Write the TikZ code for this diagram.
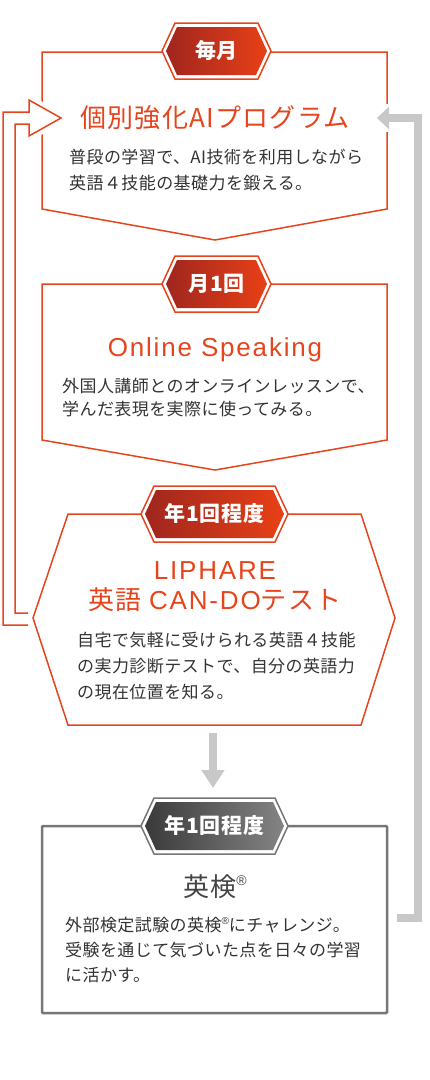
\documentclass[tikz,border=0pt]{standalone}
\usepackage{fontspec}
\setmainfont{Noto Sans CJK JP}
\newfontfamily\latinfont[LetterSpace=7]{Liberation Sans}
\newfontfamily\markfont{Liberation Sans}
\usetikzlibrary{arrows.meta}

\definecolor{lred}{RGB}{230,68,28}
\definecolor{badgeDark}{RGB}{160,38,30}
\definecolor{badgeLight}{RGB}{232,64,22}
\definecolor{gline}{RGB}{118,118,118}
\definecolor{gdark}{RGB}{58,58,58}
\definecolor{glight}{RGB}{132,132,132}
\definecolor{arrowgray}{RGB}{200,200,200}
\definecolor{bodygray}{RGB}{51,51,51}
\definecolor{titlegray}{RGB}{68,68,68}

%% hexagon label on top of a box: name, left x, right x, mid y, outline, shade left, shade right, text
\newcommand{\tagbadge}[8]{%
  \draw[draw=#5, line width=1.5pt, fill=white] (#2,#4) -- (#2+13,#4-28) -- (#3-13,#4-28)
    -- (#3,#4) -- (#3-13,#4+28) -- (#2+13,#4+28) -- cycle;
  \shade[left color=#6, right color=#7] (#2+4,#4) -- (#2+15,#4-24) -- (#3-15,#4-24)
    -- (#3-4,#4) -- (#3-15,#4+24) -- (#2+15,#4+24) -- cycle;
  \node[badgetext] (#1) at ({(#2+#3)/2},#4) {#8};
}

\begin{document}
\begin{tikzpicture}[x=1pt,y=-1pt,
    frame/.style={draw=lred, line width=1.5pt},
    grayframe/.style={draw=gline, line width=2.5pt, rounded corners=1pt},
    loopline/.style={draw=lred, line width=1.5pt},
    halo/.style={draw=white, line width=10pt, fill=white},
    grayarrow/.style={draw=arrowgray, line width=8pt},
    title/.style={text=lred, font=\fontsize{26}{30}\selectfont\addfontfeatures{LetterSpace=5},
      inner sep=0pt, align=center},
    body/.style={text=bodygray, font=\fontsize{17}{26}\selectfont\addfontfeatures{LetterSpace=2.5},
      align=left, anchor=west, inner sep=0pt},
    badgetext/.style={text=white, font=\bfseries\fontsize{21}{21}\selectfont\addfontfeatures{LetterSpace=4},
      inner sep=0pt}]
  \useasboundingbox (0,0) rectangle (430,1080);

  %% boxes
  \draw[frame] (215,240) -- (42,209) -- (42,52) -- (387,52) -- (387,209) -- cycle;
  \draw[frame] (215,470) -- (42,440) -- (42,284) -- (387,284) -- (387,440) -- cycle;
  \draw[frame] (33,618) -- (68,514) -- (361,514) -- (395,618) -- (361,725) -- (68,725) -- cycle;
  \draw[grayframe] (42,826) rectangle (387,1013);

  %% connector ends
  \coordinate (aiIn) at (61,118);
  \coordinate (aiBack) at (377,118);
  \coordinate (testOut) at (28,619);
  \coordinate (testDown) at (213,733);
  \coordinate (eikenTop) at (213,788);
  \coordinate (eikenOut) at (397,918);

  %% loop back from the test
  \draw[halo] (aiIn) ++(-32,-18) -- (aiIn) -- ++(-32,18) -- cycle;
  \draw[loopline] (testOut) ++(0,6) -- ++(-25,0) -- ++(0,-513) -- ++(26,0) -- ++(0,-12)
    -- (aiIn) -- ++(-32,18) -- ++(0,-12) -- ++(-14,0) -- ++(0,489) -- ++(13,0);

  %% Eiken back to the top
  \fill[white] (aiBack) ++(-3,-14) rectangle ++(22,28);
  \draw[grayarrow, -{Triangle[length=12pt,width=22pt]}] (eikenOut) -- ++(21,0) |- (aiBack);
  \draw[grayarrow, -{Triangle[length=18pt,width=22pt]}] (testDown) -- (eikenTop);

  %% labels
  \tagbadge{monthly}{162}{271}{51}{lred}{badgeDark}{badgeLight}{毎月}
  \tagbadge{once}{162}{271}{284}{lred}{badgeDark}{badgeLight}{月1回}
  \tagbadge{yearly}{141}{288}{514}{lred}{badgeDark}{badgeLight}{年1回程度}
  \tagbadge{yearlyEiken}{141}{288}{826}{gline}{gdark}{glight}{年1回程度}

  %% AI
  \node[title] (aiTitle) at (215,118) {個別強化AIプログラム};
  \node[body] (aiText) at (69,170) {普段の学習で、AI技術を利用しながら\\英語４技能の基礎力を鍛える。};

  %% Online Speaking
  \node[title] (osTitle) at (215,350) {\latinfont Online Speaking};
  \node[body, font=\fontsize{17}{23}\selectfont\addfontfeatures{LetterSpace=2.5}] (osText) at (62,398)
    {外国人講師とのオンラインレッスンで、\\学んだ表現を実際に使ってみる。};

  %% LIPHARE
  \node[title] (testTitle) at (215,587) {{\latinfont LIPHARE}\\英語 {\latinfont CAN-DO}テスト};
  \node[body] (testText) at (77,666) {自宅で気軽に受けられる英語４技能\\の実力診断テストで、自分の英語力\\の現在位置を知る。};

  %% Eiken
  \node[title, text=titlegray] (eikenTitle) at (215,887) {英検\raisebox{.45em}{\markfont\fontsize{14}{14}\selectfont ®}};
  \node[body, font=\fontsize{17}{25}\selectfont\addfontfeatures{LetterSpace=2.5}] (eikenText) at (65,950)
    {外部検定試験の英検\raisebox{.45em}{\markfont\fontsize{10}{10}\selectfont ®}にチャレンジ。\\受験を通じて気づいた点を日々の学習\\に活かす。};

\end{tikzpicture}
\end{document}
